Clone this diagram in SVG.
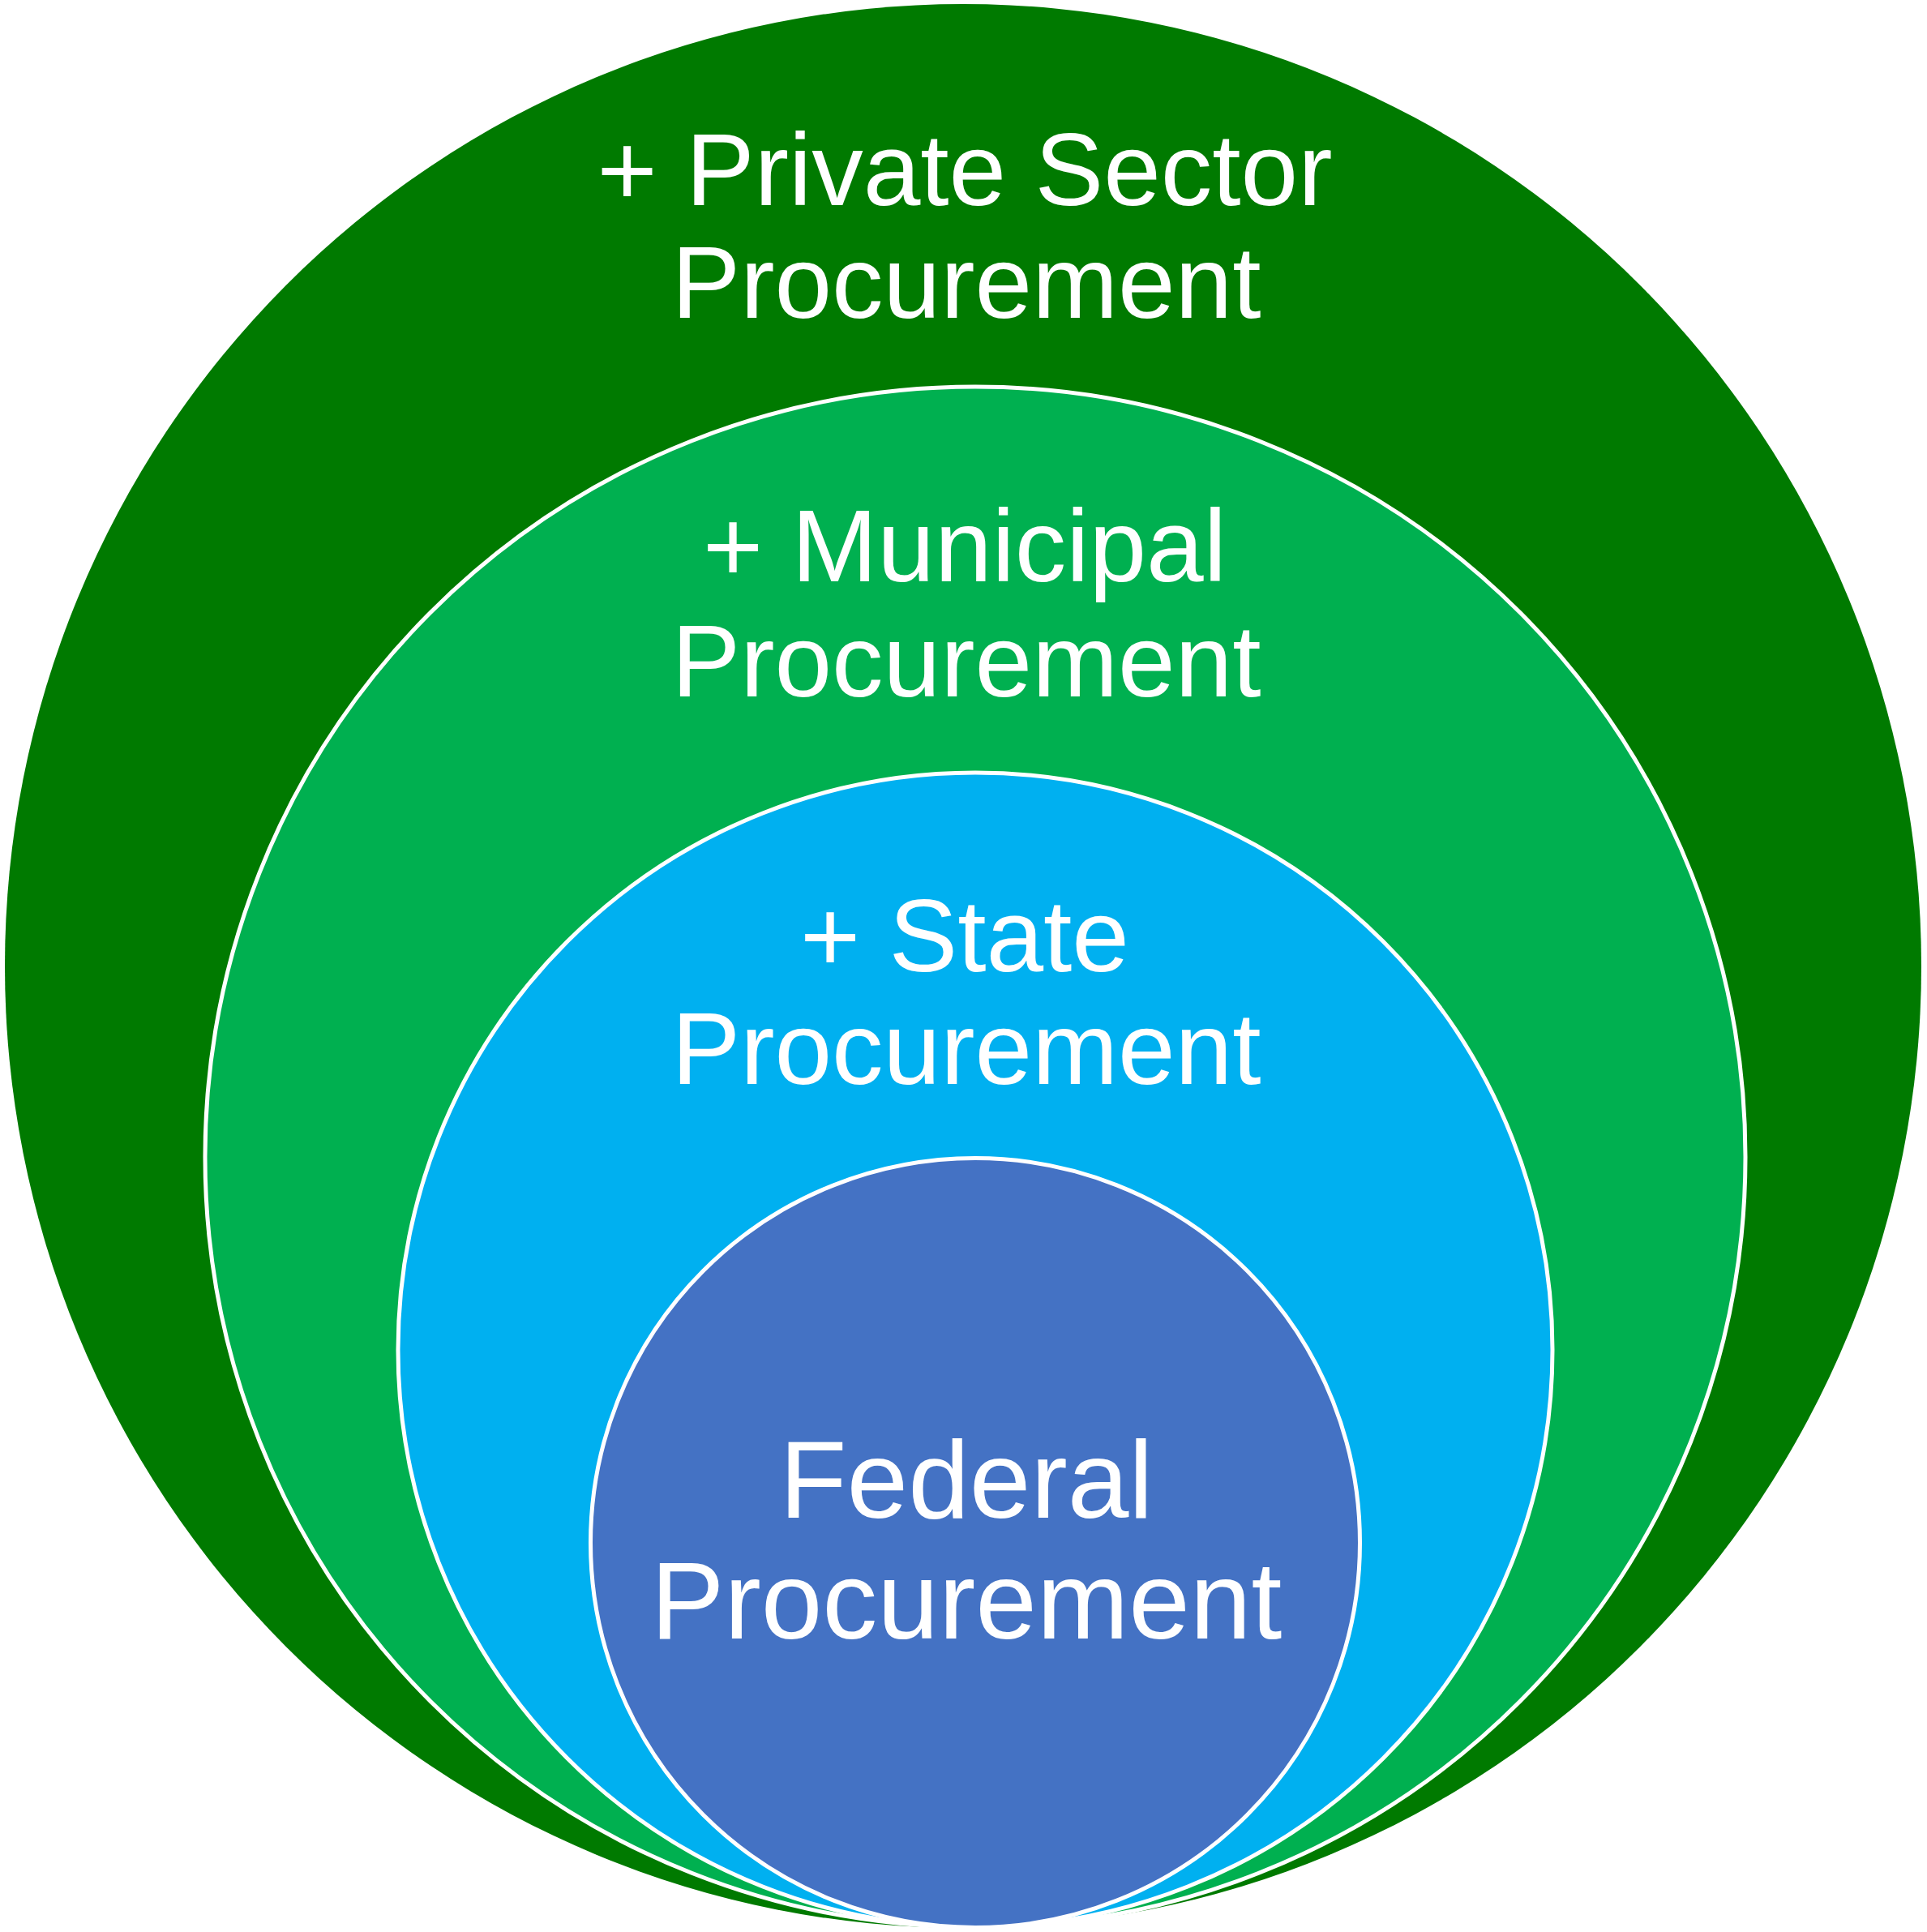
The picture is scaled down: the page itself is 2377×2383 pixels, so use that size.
<svg xmlns="http://www.w3.org/2000/svg" width="2377" height="2383" viewBox="0 0 2377 2383">
<style>
.ring{stroke:#FFFFFF;stroke-width:5}
.lbl{font-family:"Liberation Sans",Arial,sans-serif;fill:#FFFFFF;text-anchor:middle}
</style>
<rect width="2377" height="2383" fill="#FFFFFF"/>
<g id="private">
<ellipse cx="1188" cy="1191.5" rx="1182" ry="1186.5" fill="#007A00"/>
<text class="lbl" font-size="127" x="1190" y="253">+ Private Sector</text>
<text class="lbl" font-size="127" x="1192" y="392">Procurement</text>
</g>
<g id="municipal">
<circle class="ring" cx="1203" cy="1427" r="950" fill="#00B050"/>
<text class="lbl" font-size="127" x="1190" y="717">+ Municipal</text>
<text class="lbl" font-size="127" x="1192" y="859">Procurement</text>
</g>
<g id="state">
<circle class="ring" cx="1203" cy="1665" r="712" fill="#00B0F0"/>
<text class="lbl" font-size="127" x="1190" y="1198">+ State</text>
<text class="lbl" font-size="127" x="1192" y="1337">Procurement</text>
</g>
<g id="federal">
<circle class="ring" cx="1203" cy="1903" r="474.5" fill="#4472C4"/>
<text class="lbl" font-size="136" x="1192" y="1872">Federal</text>
<text class="lbl" font-size="136" x="1192" y="2021">Procurement</text>
</g>
<g id="connectors"/>
</svg>
